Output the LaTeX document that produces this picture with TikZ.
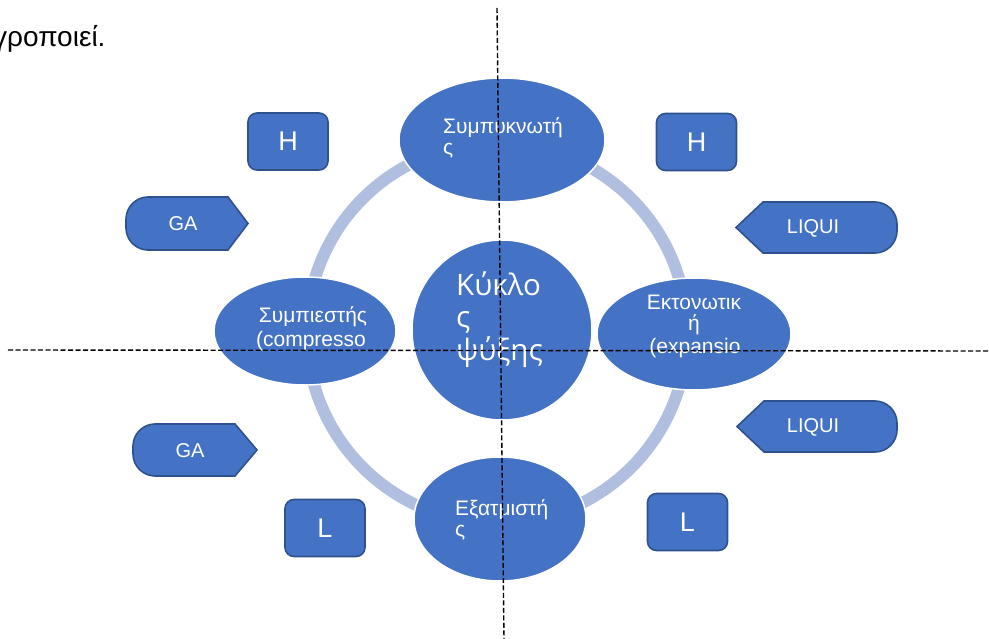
\documentclass[tikz,border=0pt]{standalone}
\usepackage{fontspec}
\setmainfont{Liberation Sans}
\newfontfamily\segoe{Open Sans}
\usetikzlibrary{shapes.geometric}
\definecolor{blu}{HTML}{4472C4}
\definecolor{blueedge}{HTML}{2F528F}
\definecolor{ringc}{HTML}{B0BEE0}
\tikzset{
  ell/.style={ellipse, fill=blu, draw=white, line width=1.5pt, inner sep=0pt},
  smallbox/.style={rectangle, rounded corners=9pt, fill=blu, draw=blueedge, line width=1.6pt,
     minimum width=80pt, minimum height=57pt, text=white, font=\fontsize{27}{30}\selectfont},
  tagshape/.style={fill=blu, draw=blueedge, line width=1.6pt},
  tagtxt/.style={text=white, font=\fontsize{20}{24}\selectfont, inner sep=0pt},
  elltxt/.style={text=white, font=\fontsize{21}{24}\selectfont, inner sep=0pt},
  bigtxt/.style={text=white, font=\segoe\fontsize{29.5}{33}\selectfont, inner sep=0pt},
  dashline/.style={black, line width=1.4pt, dash pattern=on 5pt off 2.5pt},
}
\begin{document}
\begin{tikzpicture}[x=1pt,y=-1pt]
\useasboundingbox[fill=white] (0,0) rectangle (989,639);
\clip (0,0) rectangle (989,639);
% intro text (cut at left edge, as in the reference)
\node[anchor=base west, inner sep=0pt, font=\fontsize{28}{32}\selectfont] (intro) at (-7,47) {γροποιεί.};
% ring
\draw[ringc, line width=12pt] (497,333) circle[radius=190pt];
% centre circle
\node[ell, circle, minimum size=180pt] (centre) at (502,330) {};
\begin{scope}
\clip (502,330) circle[radius=89pt];
\node[bigtxt, anchor=base west] (c1) at (456,296) {Κύκλο};
\node[bigtxt, anchor=base west] (c2) at (456,328) {ς};
\node[bigtxt, anchor=base west] (c3) at (456,361) {ψύξης};
\end{scope}
% four ellipses
\node[ell, minimum width=206pt, minimum height=124pt] (cond) at (502,140) {};
\node[ell, minimum width=182pt, minimum height=108pt] (comp) at (305,331) {};
\node[ell, minimum width=194pt, minimum height=112pt] (expv) at (694,334) {};
\node[ell, minimum width=172pt, minimum height=124pt] (evap) at (500,519) {};
% ellipse texts
\node[elltxt, anchor=base west] (t1a) at (443,134) {Συμπυκνωτή};
\node[elltxt, anchor=base west] (t1b) at (443,155) {ς};
\node[elltxt, anchor=base] (t2a) at (313,323) {Συμπιεστής};
\node[elltxt, anchor=base] (t2b) at (311,347) {(compresso};
\node[elltxt, anchor=base] (t3a) at (694,310) {Εκτονωτικ};
\node[elltxt, anchor=base] (t3b) at (694,331) {ή};
\node[elltxt, anchor=base] (t3c) at (695,353) {(expansio};
\node[elltxt, anchor=base west] (t4a) at (455,515) {Εξατμιστή};
\node[elltxt, anchor=base west] (t4b) at (455,536) {ς};
% small boxes
\node[smallbox] (hl) at (288,141.5) {H};
\node[smallbox] (hr) at (696.5,142) {H};
\node[smallbox] (ll) at (325,528) {L};
\node[smallbox] (lr) at (687.5,522) {L};
% tag shapes
\draw[tagshape] (148,197) -- (228,197) -- (248,223.5) -- (228,250) -- (148,250)
  .. controls (136,250) and (126,240) .. (126,228) -- (126,219)
  .. controls (126,207) and (136,197) .. (148,197) -- cycle;
\node[tagtxt] (ga1) at (183,224) {GA};
\draw[tagshape] (155,424) -- (235,424) -- (257,450) -- (235,476) -- (155,476)
  .. controls (143,476) and (133,466) .. (133,454) -- (133,446)
  .. controls (133,434) and (143,424) .. (155,424) -- cycle;
\node[tagtxt] (ga2) at (190,451) {GA};
\draw[tagshape] (763,202) -- (875,202) .. controls (887,202) and (897,212) .. (897,224)
  -- (897,231) .. controls (897,243) and (887,253) .. (875,253) -- (763,253) -- (736,227.5) -- cycle;
\node[tagtxt] (lq1) at (813,228) {LIQUI};
\draw[tagshape] (764,401) -- (875,401) .. controls (887,401) and (897,411) .. (897,423)
  -- (897,430) .. controls (897,442) and (887,452) .. (875,452) -- (764,452) -- (737,426.5) -- cycle;
\node[tagtxt] (lq2) at (813,427) {LIQUI};
% dashed axes
\coordinate (vtop) at (497,8);
\coordinate (vbot) at (504,639);
\coordinate (hl0) at (8,350);
\coordinate (hr0) at (989,351);
\draw[dashline] (vtop) -- (vbot);
\draw[dashline] (hl0) -- (hr0);
\end{tikzpicture}
\end{document}
